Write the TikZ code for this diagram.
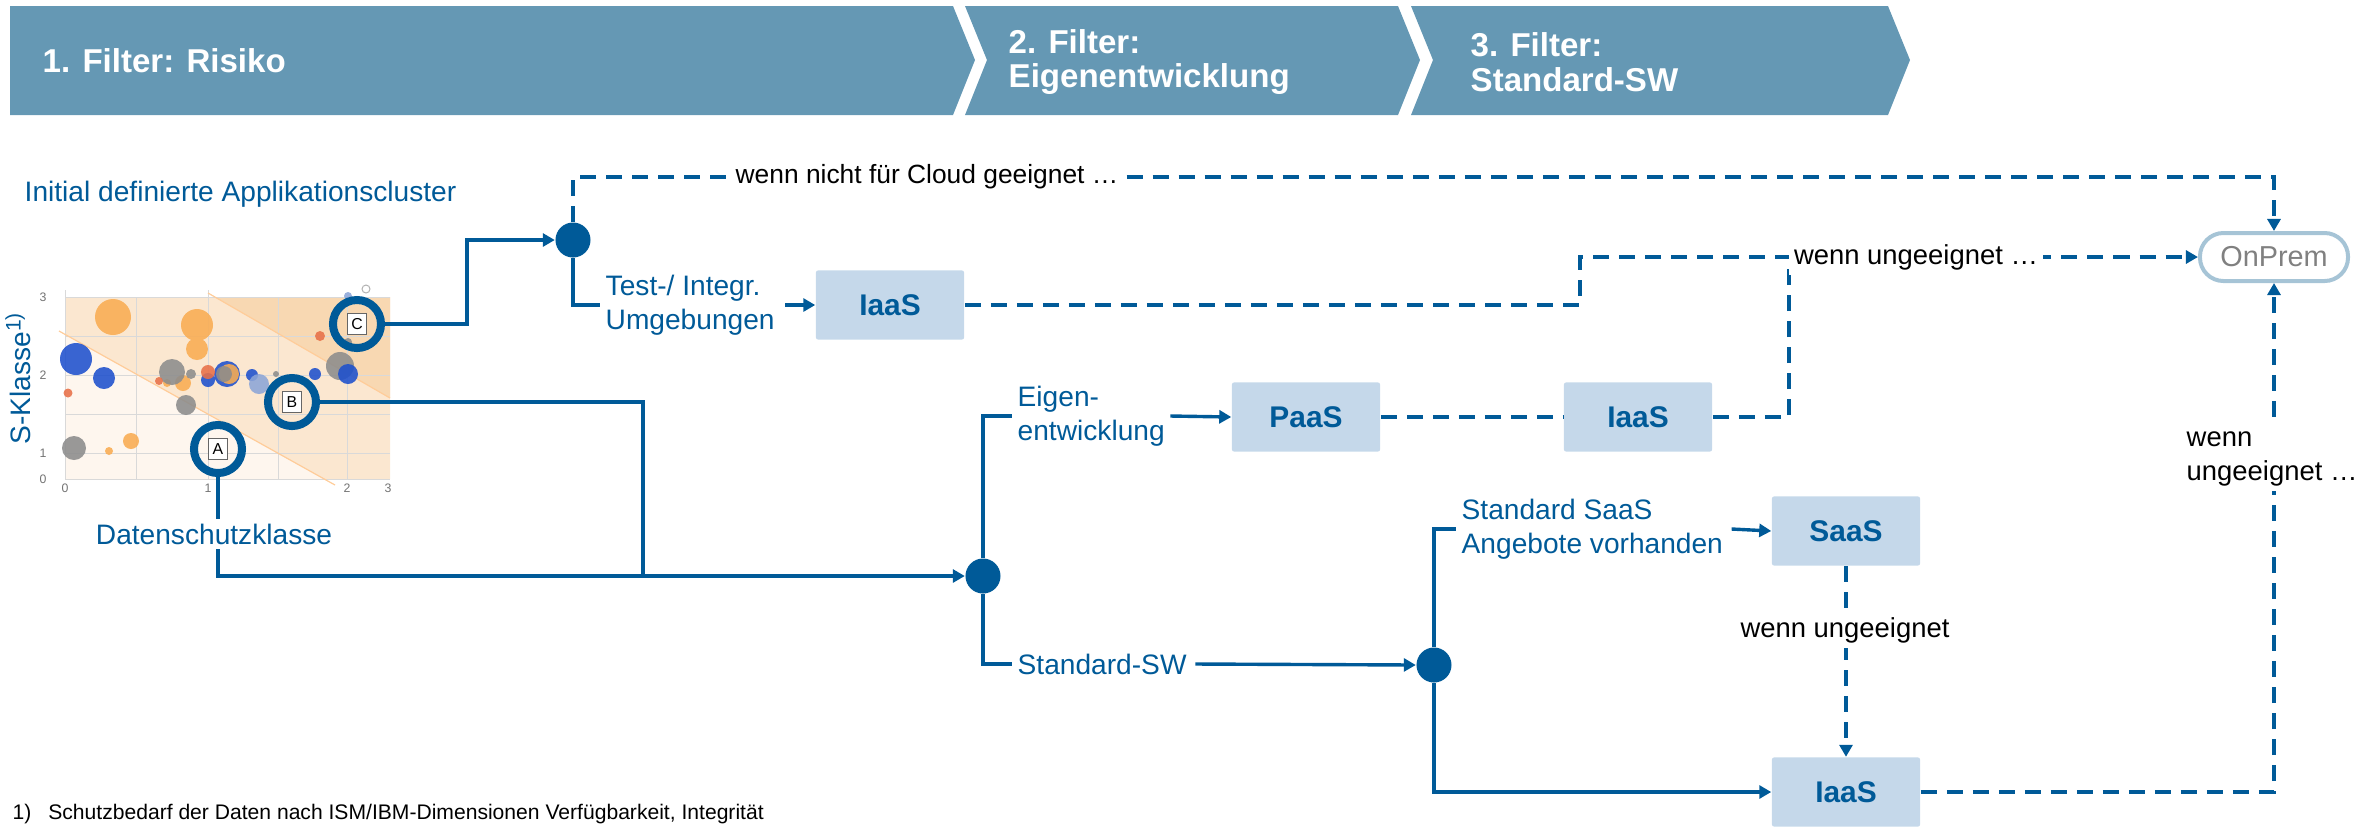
\documentclass[tikz,border=0pt]{standalone}
\usepackage{fontspec}
\setmainfont{Liberation Sans}
\usetikzlibrary{arrows.meta}
\definecolor{mblue}{RGB}{0,90,152}
\definecolor{hdr}{RGB}{101,152,180}
\definecolor{boxc}{RGB}{197,216,234}
\definecolor{opb}{RGB}{166,196,214}
\definecolor{opt}{RGB}{128,128,128}
\definecolor{bgA}{RGB}{254,246,238}
\definecolor{bgB}{RGB}{251,231,208}
\definecolor{bgC}{RGB}{248,216,178}
\definecolor{cOr}{RGB}{249,172,82}
\definecolor{cBl}{RGB}{30,80,205}
\definecolor{cGr}{RGB}{140,140,140}
\definecolor{cRd}{RGB}{232,112,72}
\definecolor{cLb}{RGB}{140,165,215}
\tikzset{
 ln/.style={draw=mblue, line width=0.034cm},
 arr/.style={ln, -{Triangle[length=0.12cm,width=0.13cm]}},
 dsh/.style={ln, dash pattern=on 0.16cm off 0.10cm},
 dsharr/.style={dsh, -{Triangle[length=0.12cm,width=0.13cm]}},
 sbox/.style={fill=boxc, rounded corners=0.02cm, minimum width=1.48cm, minimum height=0.69cm, inner sep=0, text=mblue, font=\fontsize{8.5}{10}\bfseries},
 jdot/.style={circle, fill=mblue, minimum size=0.35cm, inner sep=0},
 lbl/.style={text=mblue, font=\fontsize{8}{9.7}\selectfont, align=left, inner sep=0.05cm},
 blk/.style={text=black, font=\fontsize{7.8}{9.5}\selectfont, align=left, inner sep=0.05cm, fill=white},
 ring/.style={circle, draw=mblue, line width=0.08cm, minimum size=0.48cm, inner sep=0},
 letter/.style={draw=black!60, fill=white, line width=0.01cm, minimum width=0.19cm, minimum height=0.21cm, inner sep=0, font=\fontsize{4.5}{5}\selectfont},
 hdrtxt/.style={text=white, font=\fontsize{9.4}{9.8}\bfseries, align=left, anchor=west, inner sep=0},
 tick/.style={text=black!55, font=\fontsize{3.5}{4}\selectfont, inner sep=0},
}
\begin{document}
\begin{tikzpicture}[x=0.01cm,y=-0.01cm]
\useasboundingbox (0,0) rectangle (2371,826);
% header chevrons
\fill[hdr] (10,6) -- (953,6) -- (975,60) -- (953,115) -- (10,115) -- cycle;
\fill[hdr] (965,6) -- (1398,6) -- (1420,60) -- (1398,115) -- (965,115) -- (987,60) -- cycle;
\fill[hdr] (1411,6) -- (1888,6) -- (1910,60) -- (1888,115) -- (1411,115) -- (1433,60) -- cycle;
\node[hdrtxt] (h1) at (42,61) {1. Filter: Risiko};
\node[hdrtxt] (h2) at (1008,62) {2. Filter:\\Eigenentwicklung};
\node[hdrtxt] (h3) at (1470,62) {3. Filter:\\Standard-SW};

\node[lbl, anchor=west] (ini) at (19,194) {Initial definierte Applikationscluster};
\node[lbl, rotate=90] (skl) at (18,378) {S-Klasse\textsuperscript{1)}};

% chart
\begin{scope}
\fill[bgA] (65,297) rectangle (390,479);
\fill[bgB] (65,334) -- (324,479) -- (390,479) -- (390,297) -- (65,297) -- cycle;
\fill[bgC] (215,297) -- (390,398) -- (390,297) -- cycle;
\draw[black!15, line width=0.01cm] (65,297) -- (390,297) (65,336) -- (390,336) (65,375) -- (390,375) (65,414) -- (390,414) (65,453) -- (390,453) (65,479) -- (390,479);
\draw[black!15, line width=0.01cm] (65,290) -- (65,479) (136,297) -- (136,479) (208,290) -- (208,479) (278,297) -- (278,479) (347,297) -- (347,479);
\draw[orange!40, line width=0.012cm] (59,331) -- (335,485) (208,293) -- (390,398);
\node[tick] (t3) at (43,297) {3};
\node[tick] (t2) at (43,375) {2};
\node[tick] (t1) at (43,453) {1};
\node[tick] (t0) at (43,479) {0};
\node[tick] (x0) at (65,488) {0};
\node[tick] (x1) at (208,488) {1};
\node[tick] (x2) at (347,488) {2};
\node[tick] (x3) at (388,488) {3};
\begin{scope}[fill opacity=0.88]
\fill[cOr] (113,317) circle (18) (197,325) circle (16) (197,349) circle (11) (183,383) circle (8) (131,441) circle (8) (109,451) circle (4) (167,383) circle (4);
\fill[cGr] (172,372) circle (13) (191,374) circle (5) (186,405) circle (10) (276,374) circle (3) (340,366) circle (14) (348,342) circle (4) (74,448) circle (12);
\fill[cBl] (76,359) circle (16) (104,378) circle (11) (208,380) circle (7) (252,375) circle (6) (315,374) circle (6) (348,374) circle (10) (227,374) circle (13);
\fill[cOr] (229,374) circle (10);
\fill[cGr] (224,374) circle (8);
\fill[cRd] (68,393) circle (4.5) (159,381) circle (4) (208,372) circle (7) (320,336) circle (5);
\fill[cLb] (259,384) circle (10) (348,296) circle (4);
\end{scope}
\draw[black!30, line width=0.01cm] (366,289) circle (4);
\end{scope}

% rings
\node[ring] (ringA) at (218,449) {};
\node[ring] (ringB) at (292,402) {};
\node[ring] (ringC) at (357,324) {};
\node[letter] (lA) at (ringA) {A};
\node[letter] (lB) at (ringB) {B};
\node[letter] (lC) at (ringC) {C};

% junctions and boxes
\node[jdot] (dot1) at (573,240) {};
\node[jdot] (dot2) at (983,576) {};
\node[jdot] (dot3) at (1434,665) {};
\node[sbox] (iaas1) at (890,305) {IaaS};
\node[sbox] (paas) at (1306,417) {PaaS};
\node[sbox] (iaas2) at (1638,417) {IaaS};
\node[sbox] (saas) at (1846,531) {SaaS};
\node[sbox] (iaas3) at (1846,792) {IaaS};
\node[draw=opb, line width=0.04cm, rounded corners=0.235cm, minimum width=1.48cm, minimum height=0.48cm, inner sep=0, text=opt, font=\fontsize{8.2}{10}\selectfont] (onprem) at (2274,257) {OnPrem};

\coordinate (topy) at (0,177);
\coordinate (j1) at (1580,257);
\coordinate (j2) at (1789,257);
\coordinate (bjoin) at (643,576);
\coordinate (cbend) at (467,324);

% connectors from chart
\draw[arr] (ringC.east) -- (cbend) |- (dot1.west);
\draw[arr] (ringA.south) |- (dot2.west);
\draw[ln] (ringB.east) -| (bjoin);
\node[lbl, fill=white] (dsk) at (214,534) {Datenschutzklasse};

% top dashed
\draw[dsharr] (dot1.north) -- (dot1.north |- topy) -- (onprem.north |- topy) -- (onprem.north);
\node[blk, font=\fontsize{7.5}{9}\selectfont] (w1) at (927,177) {wenn nicht für Cloud geeignet …};

% test path
\node[lbl, anchor=west] (test) at (600,305) {Test-/ Integr.\\Umgebungen};
\draw[ln] (dot1.south) |- (test.west);
\draw[arr] ([xshift=0.05cm]test.east) -- (iaas1.west);
\draw[dsharr] (iaas1.east) -| (j1) -- (onprem.west);
\draw[dsh] (iaas2.east) -| (j2);
\node[blk] (w2) at (1916,257) {wenn ungeeignet …};

% Eigenentwicklung
\node[lbl, anchor=west] (eigen) at (1012,416) {Eigen-\\entwicklung};
\draw[ln] (dot2.north) |- (eigen.west);
\draw[arr] (eigen.east) -- (paas.west);
\draw[dsh] (paas.east) -- (iaas2.west);

% Standard-SW
\node[lbl, anchor=west] (stdsw) at (1012,664) {Standard-SW};
\draw[ln] (dot2.south) |- (stdsw.west);
\draw[arr] ([xshift=0.03cm]stdsw.east) -- (dot3.west);

\node[lbl, anchor=west] (stdsaas) at (1456,529) {Standard SaaS\\Angebote vorhanden};
\draw[ln] (dot3.north) |- (stdsaas.west);
\draw[arr] ([xshift=0.03cm]stdsaas.east) -- (saas.west);
\draw[dsharr] (saas.south) -- (iaas3.north);
\node[blk] (w3) at (1845,630) {wenn ungeeignet};
\draw[arr] (dot3.south) |- (iaas3.west);

\draw[dsharr] (iaas3.east) -| (onprem.south);
\node[blk, anchor=west] (w4) at (2181,459) {wenn\\ungeeignet …};

% footnote
\node[anchor=base west, font=\fontsize{6}{7}\selectfont, inner sep=0] (fn) at (12,819) {1)\hspace{0.8em}Schutzbedarf der Daten nach ISM/IBM-Dimensionen Verfügbarkeit, Integrität};
\end{tikzpicture}
\end{document}
